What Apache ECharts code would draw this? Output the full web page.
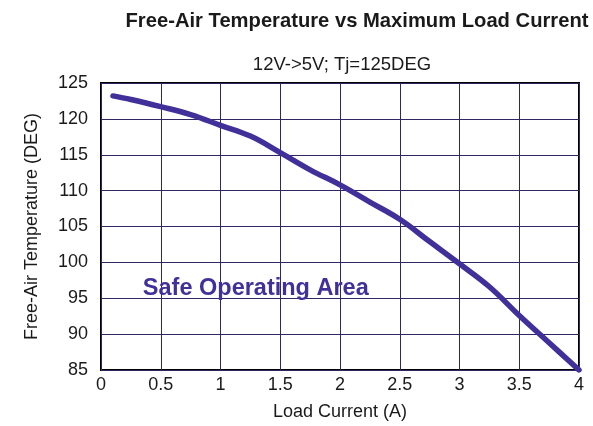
<!DOCTYPE html>
<html>
<head>
<meta charset="utf-8">
<script src="https://cdn.jsdelivr.net/npm/echarts@6/dist/echarts.min.js"></script>
<style>
html,body{margin:0;padding:0;background:#fff;}
#c{width:593px;height:426px;}
</style>
</head>
<body>
<div id="c"></div>
<script>
const loadCurrent = [0.1, 0.25, 0.5, 0.75, 1.0, 1.25, 1.5, 1.75, 2.0, 2.25, 2.5, 2.75, 3.0, 3.25, 3.5, 3.75, 4.0];
const temperature = [123.2, 122.7, 121.7, 120.6, 119.1, 117.6, 115.3, 112.9, 110.8, 108.4, 106.0, 102.9, 99.8, 96.6, 92.6, 88.8, 85.0];
const xTicks = [0, 0.5, 1, 1.5, 2, 2.5, 3, 3.5, 4];
const yTicks = [85, 90, 95, 100, 105, 110, 115, 120, 125];
const annotationText = 'Safe Operating Area';
const annotationAt = [0.35, 96.3];

const font = '"Liberation Sans", Arial, Helvetica, sans-serif';
const lineColor = '#42309a';
const gridColor = '#2e2764';

const chart = echarts.init(document.getElementById('c'), null, {renderer: 'canvas'});
chart.setOption({
  animation: false,
  backgroundColor: '#fff',
  title: [
    {text: 'Free-Air Temperature vs Maximum Load Current', left: 352, top: 6, textAlign: 'center',
     textStyle: {fontFamily: font, fontSize: 20.2, fontWeight: 'bold', color: '#1a1a1a'}},
    {text: '12V->5V; Tj=125DEG', left: 337, top: 50, textAlign: 'center',
     textStyle: {fontFamily: font, fontSize: 18.5, fontWeight: 'normal', color: '#1a1a1a'}}
  ],
  grid: {left: 101, right: 14, top: 83, bottom: 56, show: true, borderColor: '#000', borderWidth: 2},
  xAxis: {
    type: 'value', min: xTicks[0], max: xTicks[xTicks.length - 1], interval: 0.5,
    name: 'Load Current (A)', nameLocation: 'middle', nameGap: 33,
    nameTextStyle: {fontFamily: font, fontSize: 18, color: '#1a1a1a'},
    axisLine: {show: false}, axisTick: {show: false},
    axisLabel: {fontFamily: font, fontSize: 18, color: '#1a1a1a', margin: 6},
    splitLine: {show: true, lineStyle: {color: gridColor, width: 1}}
  },
  yAxis: {
    type: 'value', min: yTicks[0], max: yTicks[yTicks.length - 1], interval: 5,
    name: 'Free-Air Temperature (DEG)', nameLocation: 'middle', nameGap: 60,
    nameTextStyle: {fontFamily: font, fontSize: 18, color: '#1a1a1a'},
    axisLine: {show: false}, axisTick: {show: false},
    axisLabel: {fontFamily: font, fontSize: 18, color: '#1a1a1a', margin: 13},
    splitLine: {show: true, lineStyle: {color: gridColor, width: 1}}
  },
  series: [{
    type: 'line',
    data: loadCurrent.map((x, i) => [x, temperature[i]]),
    showSymbol: false,
    smooth: 0.4,
    lineStyle: {color: lineColor, width: 5.5, cap: 'round', join: 'round'},
    markPoint: {
      symbolSize: 0,
      data: [{coord: annotationAt, value: annotationText}],
      label: {show: true, position: 'right', distance: 0, formatter: annotationText,
        fontFamily: font, fontSize: 23.5, fontWeight: 'bold', color: lineColor}
    }
  }]
});
</script>
</body>
</html>
